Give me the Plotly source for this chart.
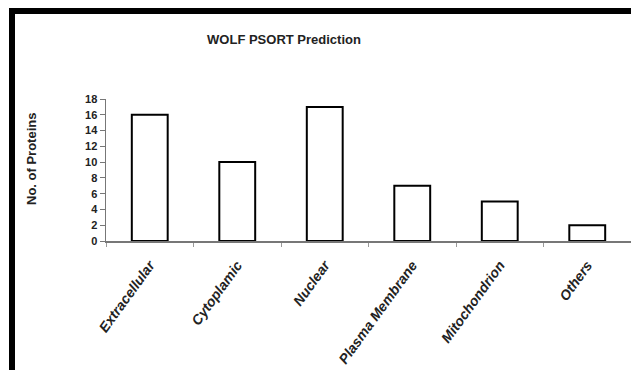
import plotly.graph_objects as go

categories = ["Extracellular", "Cytoplamic", "Nuclear", "Plasma Membrane", "Mitochondrion", "Others"]
proteins = [16, 10, 17, 7, 5, 2]
y_ticks = [0, 2, 4, 6, 8, 10, 12, 14, 16, 18]

W, H = 631, 370
L, R = 106, 631   # plot area x in px
T, B = 99, 241    # plot area y in px

def px_x(x):
    return (x - L) / (R - L)

def px_y(y):
    return (B - y) / (B - T)

FONT = "Liberation Sans, Arial"

fig = go.Figure(go.Bar(
    x=categories, y=proteins,
    marker=dict(color="white", line=dict(color="black", width=2)),
    width=0.41, hoverinfo="skip",
))

shapes = [
    dict(type="rect", xref="paper", yref="paper",
         x0=px_x(9), x1=px_x(640), y0=px_y(14), y1=px_y(8),
         fillcolor="black", line=dict(width=0), layer="above"),
    dict(type="rect", xref="paper", yref="paper",
         x0=px_x(9), x1=px_x(15), y0=px_y(380), y1=px_y(8),
         fillcolor="black", line=dict(width=0), layer="above"),
]

fig.update_layout(
    width=W, height=H,
    margin=dict(l=L, r=W - R, t=T, b=H - B, pad=0, autoexpand=False),
    paper_bgcolor="white", plot_bgcolor="white",
    showlegend=False, hovermode=False,
    font=dict(family=FONT, color="black"),
    title=dict(text="<b>WOLF PSORT Prediction</b>", x=284 / W, xanchor="center",
               y=1 - 39 / H, yanchor="middle", yref="container",
               font=dict(size=13, color="#222")),
    shapes=shapes,
    annotations=[dict(text="<b>No. of Proteins</b>", xref="paper", yref="paper",
                      x=px_x(31), y=px_y(159), xanchor="center", yanchor="middle",
                      textangle=-90, showarrow=False,
                      font=dict(size=13, color="#222"))],
    xaxis=dict(
        tickmode="array", tickvals=categories,
        ticktext=[f"<b><i>{c}</i></b>" for c in categories],
        tickangle=-54, tickfont=dict(size=14, color="#222"),
        showline=True, linecolor="#777", linewidth=1.5,
        ticks="outside", tickson="boundaries", ticklen=4, tickcolor="#999",
        showgrid=False, range=[-0.5, 5.5], fixedrange=True,
        automargin=False, ticklabelstandoff=9,
    ),
    yaxis=dict(
        range=[0, 18], tickmode="array", tickvals=y_ticks,
        tickfont=dict(size=11, color="#222", weight="bold"),
        showline=True, linecolor="#777", linewidth=1.5,
        ticks="outside", ticklen=5, tickcolor="#777",
        showgrid=False, zeroline=False, automargin=False, fixedrange=True,
    ),
)

fig.write_html("out.html", config={"displayModeBar": False, "staticPlot": True},
               post_script="document.body.style.margin='0';document.body.style.overflow='hidden';")
